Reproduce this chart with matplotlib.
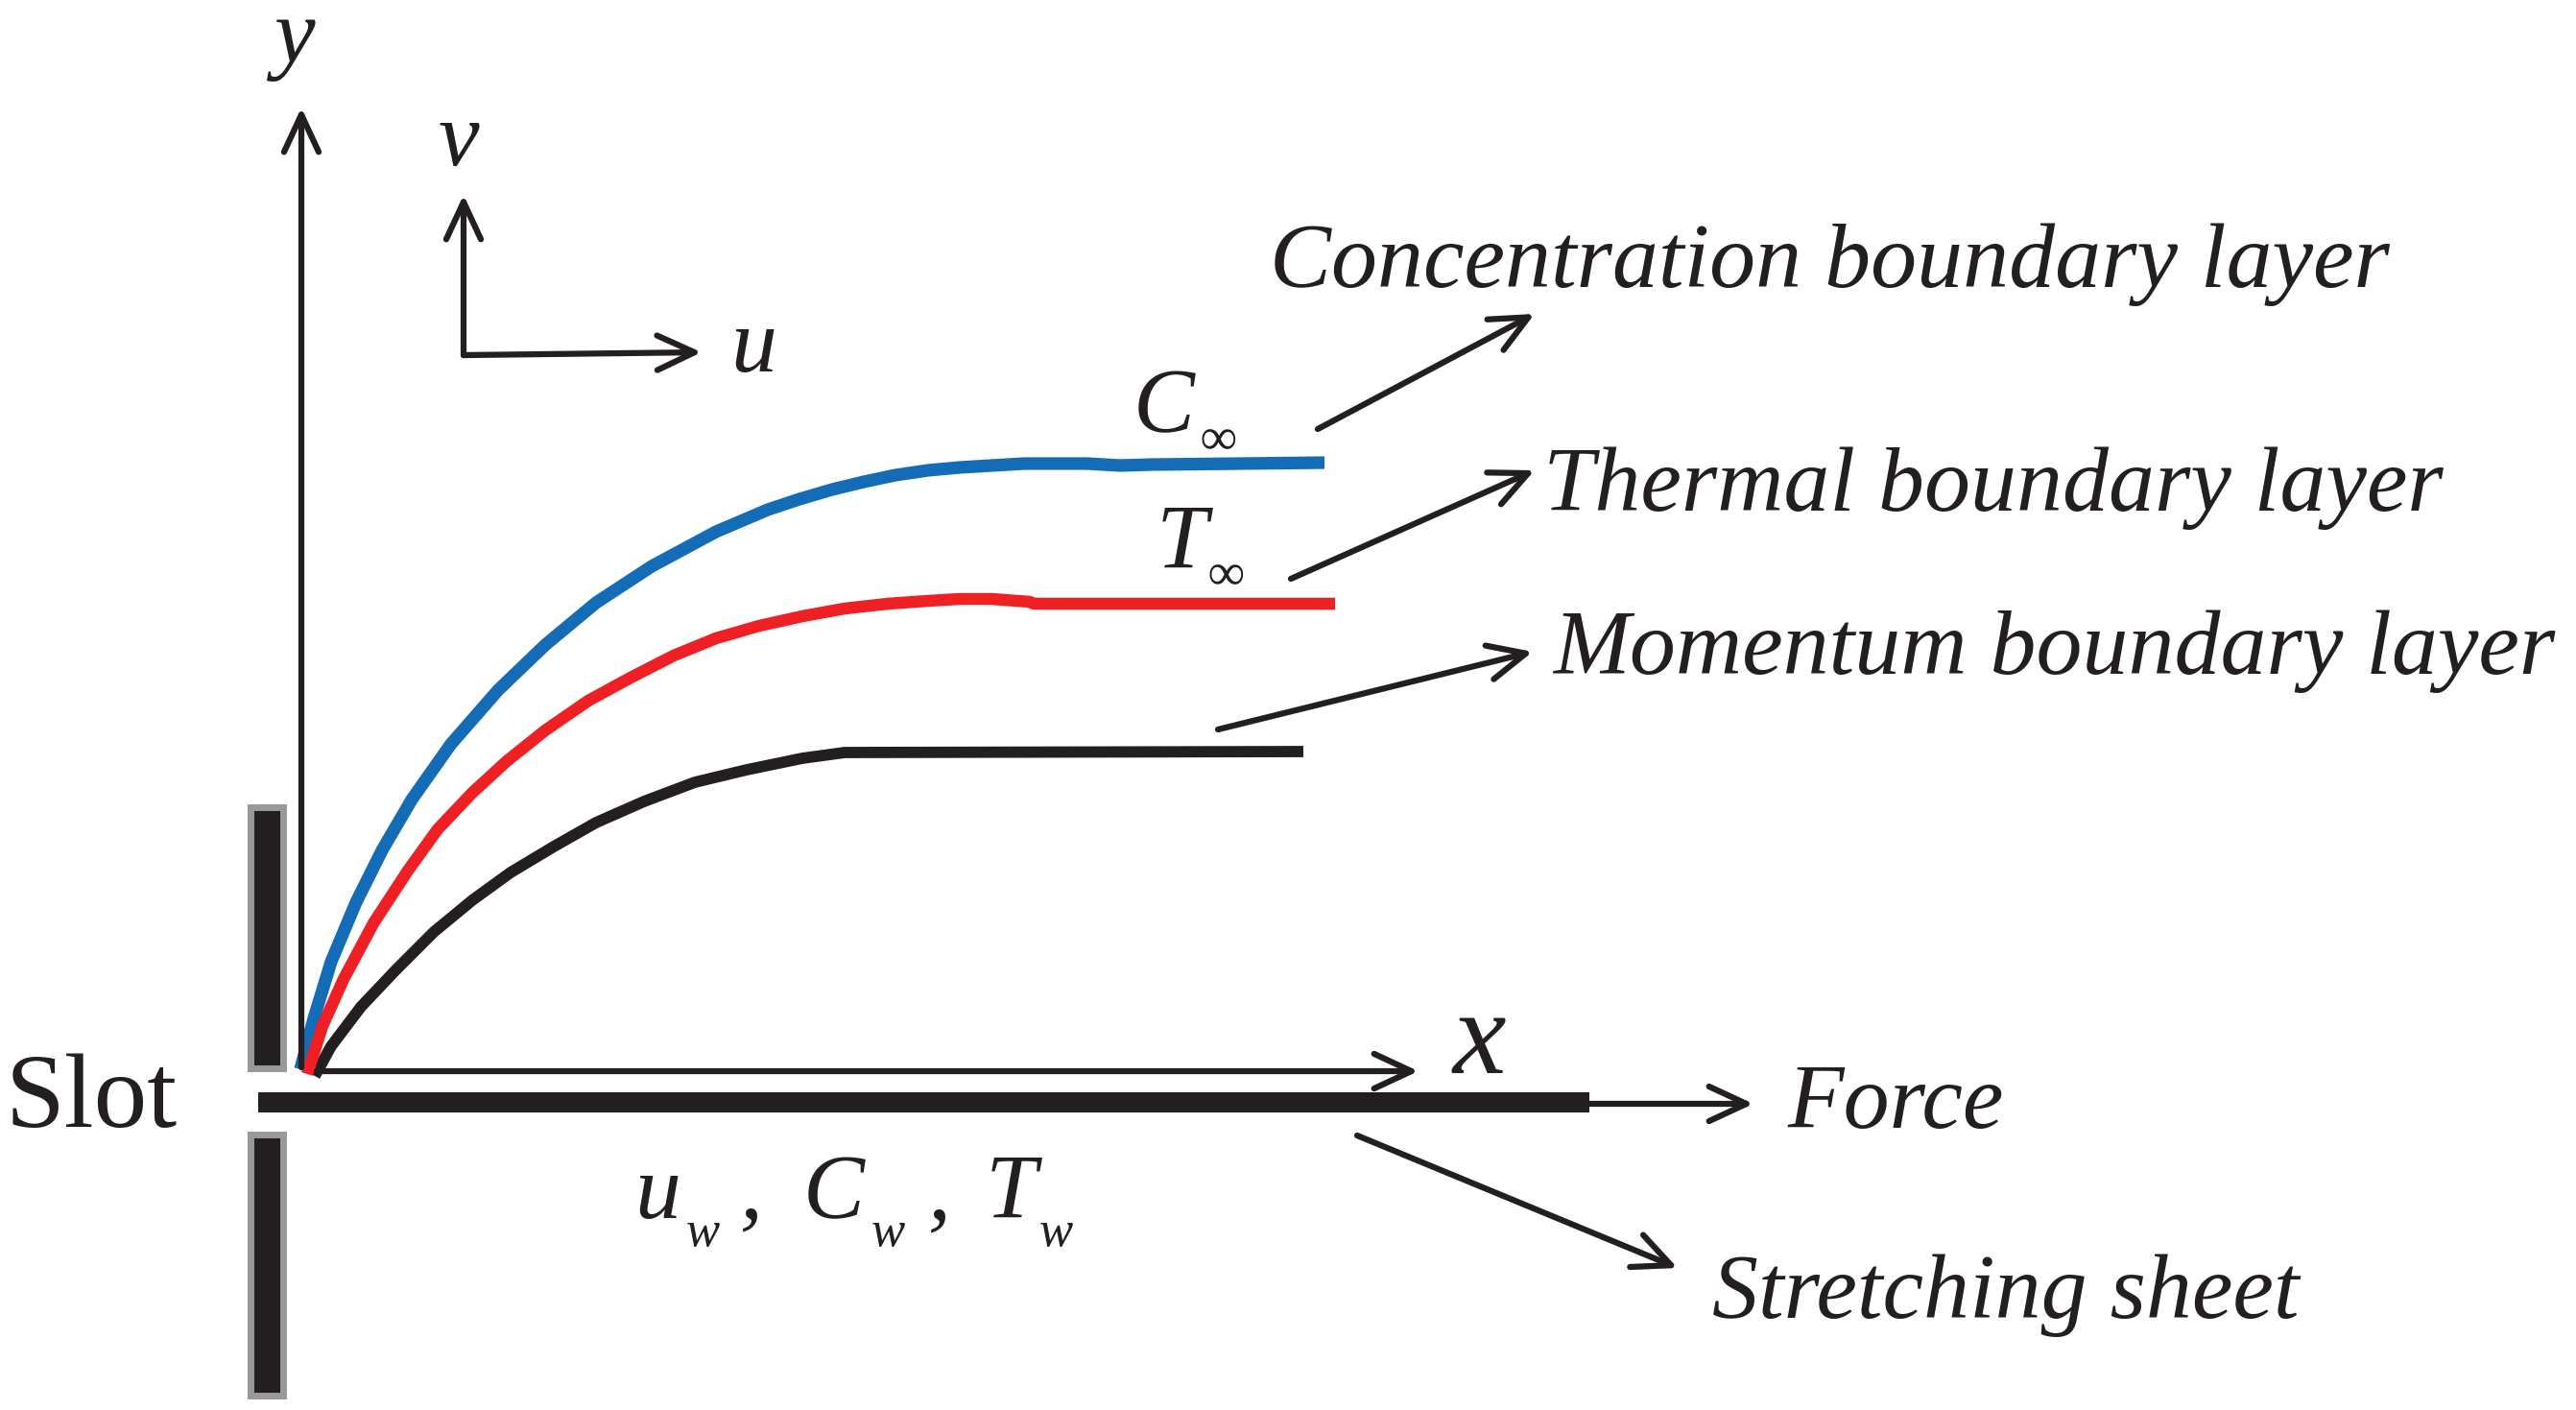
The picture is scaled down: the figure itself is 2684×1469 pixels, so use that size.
import matplotlib
matplotlib.use('Agg')
import matplotlib.pyplot as plt
from matplotlib.patches import Rectangle

WIDTH = 2684
HEIGHT = 1469
INK = '#231f20'
BLUE = '#136cb5'
RED = '#ee2024'
GREY = '#999999'

conc_x = [313, 327, 345, 371, 398, 429, 470, 519, 568, 621, 679, 746, 800, 833, 867, 900, 933, 967, 1000, 1033, 1067, 1100, 1133, 1167, 1200, 1380]
conc_y = [1114, 1061, 1002, 940, 886, 833, 775, 719, 672, 628, 590, 554, 531, 520, 510, 502, 495, 490, 487, 485, 483, 483, 483, 485, 484, 482]

therm_x = [320, 336, 358, 389, 425, 456, 492, 528, 568, 613, 657, 702, 746, 791, 836, 880, 925, 967, 1000, 1033, 1073, 1077, 1391]
therm_y = [1119, 1069, 1020, 962, 907, 864, 826, 793, 761, 730, 706, 683, 665, 652, 642, 634, 629, 626, 624, 624, 627, 629, 629]

mom_x = [328, 345, 376, 412, 452, 492, 532, 577, 621, 671, 724, 778, 836, 880, 1358]
mom_y = [1121, 1090, 1049, 1011, 971, 938, 909, 882, 857, 835, 815, 802, 790, 784, 783]

curve_width = [8.5, 9.5, 9]

# (start x, start y, tip x, tip y)
arrow_tails = [(314, 1112), (330, 1116), (1656, 1150), (1414, 1183),
               (483, 370), (483, 370), (1373, 447), (1345, 603), (1269, 760)]
arrow_tips = [(314, 112), (1478, 1116), (1827, 1150), (1748, 1321),
              (483, 203), (731, 367), (1599, 327), (1599, 490), (1597, 679)]

italic_labels = ['Concentration boundary layer', 'Thermal boundary layer', 'Momentum boundary layer',
                 'Force', 'Stretching sheet', 'y', 'v', 'u', 'x',
                 'C', 'T', 'u', ',', 'C', ',', 'T']
italic_x = [1323, 1608, 1618, 1863, 1784, 286, 457, 761, 1514, 1181, 1205, 661, 771, 837, 967, 1027]
italic_y = [299, 532, 702, 1175, 1373, 65, 172, 387, 1118, 450, 592, 1269, 1268, 1269, 1269, 1269]
italic_size = [69, 69, 69, 69, 69, 69, 69, 69, 90, 69, 69, 69, 69, 69, 69, 69]

sub_labels = ['∞', '∞', 'w', 'w', 'w']
sub_x = [1251, 1258, 715, 908, 1083]
sub_y = [473, 614, 1298, 1298, 1298]

fig = plt.figure(figsize=(WIDTH / 100, HEIGHT / 100), dpi=100)
ax = fig.add_axes([0, 0, 1, 1])
ax.set_xlim(0, WIDTH)
ax.set_ylim(HEIGHT, 0)
ax.axis('off')

serif = ['Liberation Serif', 'DejaVu Serif']

# slot walls and the sheet
ax.add_patch(Rectangle((261, 841), 34, 272, facecolor=INK, edgecolor=GREY, linewidth=5))
ax.add_patch(Rectangle((261, 1182), 34, 272, facecolor=INK, edgecolor=GREY, linewidth=5))
ax.add_patch(Rectangle((269, 1138), 1387, 21, facecolor=INK, edgecolor='none'))

# arrows
for tail, tip in zip(arrow_tails, arrow_tips):
    ax.annotate('', xy=tip, xytext=tail,
                arrowprops=dict(arrowstyle='->,head_length=1.4,head_width=0.65',
                                mutation_scale=20, color=INK, lw=4.5,
                                shrinkA=0, shrinkB=0))

# boundary layers
ax.plot(mom_x, mom_y, color=INK, lw=curve_width[0], solid_joinstyle='round', solid_capstyle='butt')
ax.plot(conc_x, conc_y, color=BLUE, lw=curve_width[1], solid_joinstyle='round', solid_capstyle='butt')
ax.plot(therm_x, therm_y, color=RED, lw=curve_width[2], solid_joinstyle='round', solid_capstyle='butt')

for label, x, y, size in zip(italic_labels, italic_x, italic_y, italic_size):
    ax.text(x, y, label, family=serif, style='italic', fontsize=size, color=INK, va='baseline', ha='left')

for label, x, y in zip(sub_labels, sub_x, sub_y):
    ax.text(x, y, label, family=serif, style='italic', fontsize=38, color=INK, va='baseline', ha='left')

ax.text(6, 1174, 'Slot', family=serif, fontsize=80, color=INK, va='baseline', ha='left')

fig.savefig('out.png', dpi=100)
